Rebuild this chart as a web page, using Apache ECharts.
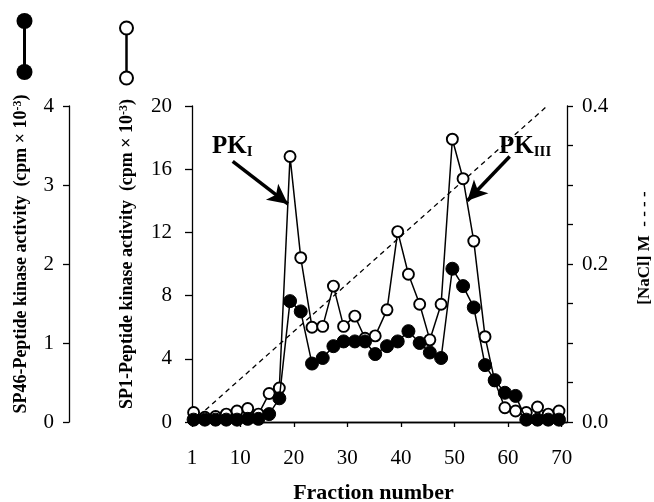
<!DOCTYPE html>
<html>
<head>
<meta charset="utf-8">
<script src="https://cdn.jsdelivr.net/npm/echarts@6/dist/echarts.min.js"></script>
<style>
  html, body { margin: 0; padding: 0; background: #fff; }
  #chart { width: 654px; height: 502px; }
</style>
</head>
<body>
<div id="chart"></div>
<script>
// fraction numbers (as plotted)
const fractions = [1.3, 3.4, 5.4, 7.4, 9.4, 11.4, 13.4, 15.4, 17.3, 19.3, 21.3, 23.4, 25.4, 27.4, 29.3, 31.4, 33.3, 35.2,
  37.4, 39.4, 41.4, 43.5, 45.4, 47.5, 49.6, 51.6, 53.6, 55.7, 57.5, 59.4, 61.4, 63.4, 65.5, 67.5, 69.5]
// SP1-peptide kinase activity (cpm x 10^-3), open circles
const sp1 = [0.6, 0.3, 0.35, 0.5, 0.7, 0.85, 0.5, 1.8, 2.15, 16.8, 10.4, 6.0, 6.05, 8.6, 6.05, 6.7, 5.3, 5.45,
  7.1, 12.05, 9.35, 7.45, 5.2, 7.45, 17.9, 15.4, 11.45, 5.4, 2.6, 0.9, 0.7, 0.6, 0.95, 0.5, 0.7]
// SP46-peptide kinase activity (cpm x 10^-3), filled circles
const sp46 = [0.03, 0.03, 0.03, 0.03, 0.03, 0.04, 0.04, 0.1, 0.3, 1.53, 1.4, 0.74, 0.81, 0.96, 1.02, 1.02, 1.02, 0.86,
  0.96, 1.02, 1.15, 1.0, 0.88, 0.81, 1.94, 1.72, 1.45, 0.72, 0.53, 0.37, 0.33, 0.03, 0.03, 0.03, 0.03]
// NaCl gradient (M), dashed line
const naclFractions = [1, 67.3]
const nacl = [0.0, 0.4]
const xTicks = [1, 10, 20, 30, 40, 50, 60, 70]

const FONT = '"Liberation Serif", "Times New Roman", serif'
const pair = (xs, ys) => xs.map((x, i) => [x, ys[i]])

const chart = echarts.init(document.getElementById('chart'), null, { renderer: 'canvas' })

const nameStyle = {
  fontFamily: FONT, fontWeight: 'bold', fontSize: 18, color: '#000',
  padding: [0, 0, 0, 20],
  rich: {
    a: { fontFamily: FONT, fontWeight: 'bold', fontSize: 18, color: '#000' },
    sup: { fontFamily: FONT, fontWeight: 'bold', fontSize: 12, color: '#000', verticalAlign: 'top', padding: [0, 0, 7, 0] }
  }
}
const labelStyle = { fontFamily: FONT, fontSize: 21, color: '#000' }
const lineBlack = { color: '#000', width: 1.3 }
const pkRich = {
  p: { fontFamily: FONT, fontWeight: 'bold', fontSize: 25, fill: '#000' },
  s: { fontFamily: FONT, fontWeight: 'bold', fontSize: 15, fill: '#000', padding: [12, 0, 0, 0] }
}

chart.setOption({
  animation: false,
  backgroundColor: '#fff',
  grid: { left: 192, right: 87, top: 106, bottom: 80, outerBoundsMode: 'none', containLabel: false },
  xAxis: [{
    type: 'value', min: 1, max: 71,
    name: 'Fraction number', nameLocation: 'middle', nameGap: 60,
    nameTextStyle: { fontFamily: FONT, fontWeight: 'bold', fontSize: 22, color: '#000', padding: [0, 12, 0, 0] },
    axisLine: { lineStyle: lineBlack },
    axisTick: { customValues: xTicks, length: 5, lineStyle: lineBlack },
    axisLabel: { customValues: xTicks, margin: 26, ...labelStyle },
    splitLine: { show: false }
  }, {
    type: 'value', min: 1, max: 71, position: 'top',
    axisLine: { show: true, lineStyle: lineBlack },
    axisTick: { show: false }, axisLabel: { show: false }, splitLine: { show: false }
  }],
  yAxis: [{
    type: 'value', position: 'left', min: 0, max: 20, interval: 4,
    name: '{a|SP1-Peptide kinase activity  (cpm × 10}{sup|-3}{a|)}',
    nameLocation: 'middle', nameRotate: 90, nameGap: 55, nameTextStyle: nameStyle,
    axisLine: { show: true, lineStyle: lineBlack },
    axisTick: { show: true, length: 7, lineStyle: lineBlack },
    axisLabel: { margin: 20, ...labelStyle },
    splitLine: { show: false }
  }, {
    type: 'value', position: 'left', offset: 123, min: 0, max: 4, interval: 1,
    name: '{a|SP46-Peptide kinase activity  (cpm × 10}{sup|-3}{a|)}',
    nameLocation: 'middle', nameRotate: 90, nameGap: 38, nameTextStyle: nameStyle,
    axisLine: { show: true, lineStyle: lineBlack },
    axisTick: { show: true, length: 6, lineStyle: lineBlack },
    axisLabel: { margin: 15, ...labelStyle },
    splitLine: { show: false }
  }, {
    type: 'value', position: 'right', min: 0, max: 0.4, interval: 0.05,
    name: '[NaCl] M  - - - -',
    nameLocation: 'middle', nameRotate: 90, nameGap: 69,
    nameTextStyle: { fontFamily: FONT, fontWeight: 'bold', fontSize: 17, color: '#000', padding: [0, 0, 0, 32] },
    axisLine: { show: true, lineStyle: lineBlack },
    axisTick: { show: true, length: 6, lineStyle: lineBlack },
    axisLabel: {
      margin: 15, ...labelStyle,
      formatter: v => (Math.abs(v / 0.2 - Math.round(v / 0.2)) < 1e-6 ? v.toFixed(1) : '')
    },
    splitLine: { show: false }
  }],
  series: [{
    name: 'NaCl', type: 'line', yAxisIndex: 2, data: pair(naclFractions, nacl),
    symbol: 'none', lineStyle: { color: '#000', width: 1.3, type: [5, 4] }, z: 1
  }, {
    name: 'SP1', type: 'line', yAxisIndex: 0, data: pair(fractions, sp1),
    symbol: 'circle', symbolSize: 11,
    itemStyle: { color: '#fff', borderColor: '#000', borderWidth: 1.9 },
    lineStyle: { color: '#000', width: 1.5 }, z: 2,
    markLine: {
      silent: true, symbol: ['none', 'arrow'], symbolSize: [15, 20],
      lineStyle: { color: '#000', width: 3.5, type: 'solid' }, label: { show: false },
      data: [
        [{ coord: [8.6, 16.5] }, { coord: [18.9, 13.8] }],
        [{ coord: [60.3, 16.8] }, { coord: [52.4, 14.0] }]
      ]
    }
  }, {
    name: 'SP46', type: 'line', yAxisIndex: 1, data: pair(fractions, sp46),
    symbol: 'circle', symbolSize: 13,
    itemStyle: { color: '#000', borderColor: '#000', borderWidth: 1 },
    lineStyle: { color: '#000', width: 1.5 }, z: 3
  }],
  graphic: [
    // series keys at top left
    { type: 'line', shape: { x1: 24.5, y1: 21, x2: 24.5, y2: 72 }, style: { stroke: '#000', lineWidth: 3 } },
    { type: 'circle', shape: { cx: 24.5, cy: 21, r: 8 }, style: { fill: '#000' } },
    { type: 'circle', shape: { cx: 24.5, cy: 72, r: 8 }, style: { fill: '#000' } },
    { type: 'line', shape: { x1: 126.5, y1: 28, x2: 126.5, y2: 78 }, style: { stroke: '#000', lineWidth: 2.5 } },
    { type: 'circle', shape: { cx: 126.5, cy: 28, r: 6.5 }, style: { fill: '#fff', stroke: '#000', lineWidth: 2 } },
    { type: 'circle', shape: { cx: 126.5, cy: 78, r: 6.5 }, style: { fill: '#fff', stroke: '#000', lineWidth: 2 } },
    // peak labels
    { type: 'text', left: 212, top: 134, style: { text: '{p|PK}{s|I}', rich: pkRich } },
    { type: 'text', left: 499, top: 134, style: { text: '{p|PK}{s|III}', rich: pkRich } }
  ]
})
</script>
</body>
</html>
